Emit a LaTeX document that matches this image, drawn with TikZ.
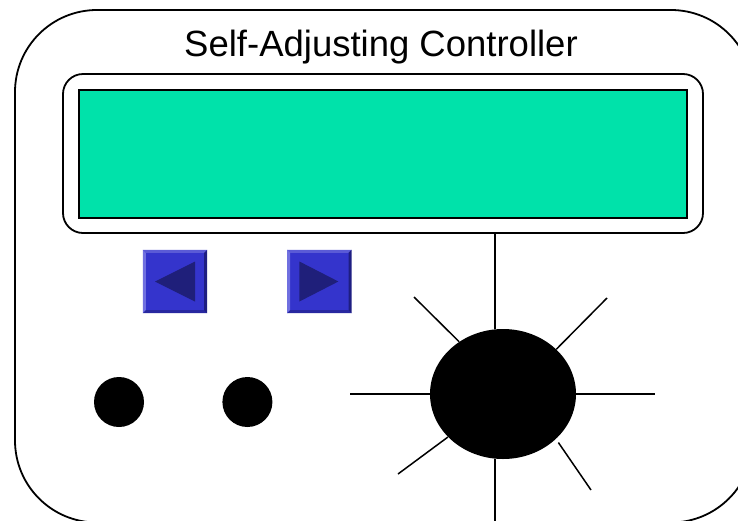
\documentclass[tikz,border=0pt]{standalone}
\usepackage{fontspec}
\setmainfont{Liberation Sans}
\usepackage{tikz}
\usetikzlibrary{shapes,positioning}
\definecolor{lcdgreen}{RGB}{0,226,170}
\definecolor{btnface}{RGB}{52,52,204}
\definecolor{btnlight}{RGB}{112,112,224}
\definecolor{btntop}{RGB}{90,90,214}
\definecolor{btndark}{RGB}{40,40,160}
\definecolor{btnshade}{RGB}{30,30,130}
\definecolor{btnarrow}{RGB}{31,31,122}
\newcommand{\bev}{3pt}

\begin{document}
\begin{tikzpicture}[x=1pt,y=-1pt]
            \tikzstyle{frame}=[draw, line width=1.8pt, rounded corners=82pt, inner sep=0pt]
            \tikzstyle{panel}=[draw, line width=1.8pt, rounded corners=20pt, inner sep=0pt]
            \tikzstyle{lcd}=[draw, line width=1.8pt, fill=lcdgreen, inner sep=0pt]
            \tikzstyle{button}=[fill=btnface, inner sep=0pt, minimum width=64pt, minimum height=63pt]
            \tikzstyle{arrowtri}=[fill=btnarrow]
            \tikzstyle{dot}=[circle, fill=black, inner sep=0pt, minimum size=50pt]
            \tikzstyle{knob}=[ellipse, fill=black, inner sep=0pt, minimum width=146pt, minimum height=130pt]
            \tikzstyle{spoke}=[line width=1.5pt]

            \useasboundingbox (0,0) rectangle (738,520);
            \clip (0,0) rectangle (738,520);

            \node[frame, minimum width=738pt, minimum height=512.5pt] (case) at (384,266.25) {};
            \node[anchor=base, font=\fontsize{36.5}{40}\selectfont] (title) at (381,56) {Self-Adjusting Controller};
            \node[panel, minimum width=640pt, minimum height=159pt] (panel) at (383,153.5) {};
            \node[lcd, minimum width=608pt, minimum height=128pt] (screen) at (383,154) {};

            % arrow buttons
            \node[button] (bleft) at (175,281.5) {};
            \node[button, right=80pt of bleft] (bright) {};
            \foreach \b in {bleft,bright} {
                \fill[btntop] (\b.north west) -- (\b.north east) -- ([xshift=-\bev,yshift=-\bev]\b.north east) -- ([xshift=\bev,yshift=-\bev]\b.north west) -- cycle;
                \fill[btnlight] (\b.north west) -- (\b.south west) -- ([xshift=\bev,yshift=\bev]\b.south west) -- ([xshift=\bev,yshift=-\bev]\b.north west) -- cycle;
                \fill[btndark] (\b.south west) -- (\b.south east) -- ([xshift=-\bev,yshift=\bev]\b.south east) -- ([xshift=\bev,yshift=\bev]\b.south west) -- cycle;
                \fill[btnshade] (\b.north east) -- (\b.south east) -- ([xshift=-\bev,yshift=\bev]\b.south east) -- ([xshift=-\bev,yshift=-\bev]\b.north east) -- cycle;
            }
            \fill[arrowtri] ([xshift=-20pt]bleft.center) -- ([xshift=20pt,yshift=20pt]bleft.center) -- ([xshift=20pt,yshift=-20pt]bleft.center) -- cycle;
            \fill[arrowtri] ([xshift=19pt]bright.center) -- ([xshift=-20pt,yshift=20pt]bright.center) -- ([xshift=-20pt,yshift=-20pt]bright.center) -- cycle;

            % push buttons
            \node[dot] (d1) at (119,402) {};
            \node[dot, right=78pt of d1] (d2) {};

            % dial
            \node[knob] (knob) at (503,394) {};
            \coordinate (axis) at (495,0);
            \coordinate (sw) at (350,394);
            \coordinate (se) at (655,394);
            \coordinate (snw) at (414,297);
            \coordinate (sne) at (607,298);
            \coordinate (ssw) at (398,474);
            \coordinate (sse) at (591,490);

            \draw[spoke] (panel.south -| axis) -- (knob.north -| axis);
            \draw[spoke] (knob.south -| axis) -- (case.south -| axis);
            \draw[spoke] (knob.west) -- (sw);
            \draw[spoke] (knob.east) -- (se);
            \draw[spoke] (knob.130) -- (snw);
            \draw[spoke] (knob.40) -- (sne);
            \draw[spoke] (knob.218) -- (ssw);
            \draw[spoke] ([xshift=3pt,yshift=-3pt]knob.319) -- (sse);

        \end{tikzpicture}
\end{document}
